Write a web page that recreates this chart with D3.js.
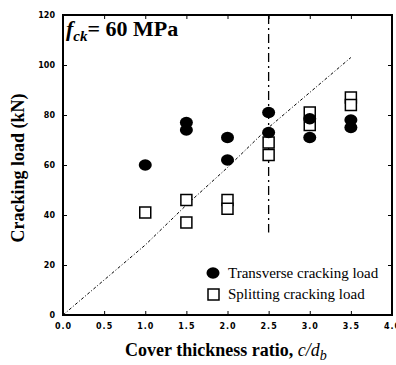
<!DOCTYPE html>
<html>
<head>
<meta charset="utf-8">
<script src="https://cdn.jsdelivr.net/npm/d3@7"></script>
<style>
  body { margin: 0; background: #fff; }
  svg { display: block; }
</style>
</head>
<body>
<div id="chart"></div>
<script>
// data
const transverseX = [1.0, 1.5, 1.5, 2.0, 2.0, 2.5, 2.5, 3.0, 3.0, 3.5, 3.5];
const transverseY = [60, 77, 74, 71, 62, 81, 73, 78.5, 71, 78, 75];
const splittingX = [1.0, 1.5, 1.5, 2.0, 2.0, 2.5, 2.5, 3.0, 3.0, 3.5, 3.5];
const splittingY = [41, 46, 37, 46, 42.5, 69, 64, 81, 76, 87, 84];
const trendX = [0, 0.5, 1.0, 1.5, 2.0, 2.5, 3.0, 3.5];
const trendY = [0, 14, 28, 44, 59, 75, 89, 103];
const limitX = 2.5;
const limitY = [33, 120];
const xTicks = [0, 0.5, 1, 1.5, 2, 2.5, 3, 3.5, 4];
const yTicks = [0, 20, 40, 60, 80, 100, 120];

const width = 396, height = 365;
const margin = {top: 15, right: 4, bottom: 50, left: 63};

const svg = d3.select("#chart").append("svg")
  .attr("width", width)
  .attr("height", height);

const x = d3.scaleLinear().domain([0, 4]).range([margin.left, width - margin.right]);
const y = d3.scaleLinear().domain([0, 120]).range([height - margin.bottom, margin.top]);

const tickFont = "bold 8px 'DejaVu Sans', sans-serif";

// axes with inward ticks
svg.append("g")
  .attr("transform", `translate(0,${y(0)})`)
  .call(d3.axisBottom(x).tickValues(xTicks).tickSize(-4).tickPadding(8).tickFormat(d3.format(".1f")))
  .call(g => g.select(".domain").remove())
  .call(g => g.selectAll("text").style("font", tickFont).attr("letter-spacing", 1));

svg.append("g")
  .attr("transform", `translate(${x(0)},0)`)
  .call(d3.axisLeft(y).tickValues(yTicks).tickSize(-4).tickPadding(8).tickFormat(d3.format("d")))
  .call(g => g.select(".domain").remove())
  .call(g => g.selectAll("text").style("font", tickFont));

svg.append("g")
  .attr("transform", `translate(0,${y(120)})`)
  .call(d3.axisTop(x).tickValues(xTicks).tickSize(-4).tickFormat(""))
  .call(g => g.select(".domain").remove());

svg.append("g")
  .attr("transform", `translate(${x(4)},0)`)
  .call(d3.axisRight(y).tickValues(yTicks).tickSize(-4).tickFormat(""))
  .call(g => g.select(".domain").remove());

// frame
svg.append("rect")
  .attr("x", x(0)).attr("y", y(120))
  .attr("width", x(4) - x(0)).attr("height", y(0) - y(120))
  .attr("fill", "none").attr("stroke", "#000").attr("stroke-width", 2);

// trend line (dotted)
svg.append("path")
  .datum(trendX.map((d, i) => [d, trendY[i]]))
  .attr("fill", "none")
  .attr("stroke", "#000")
  .attr("stroke-width", 1)
  .attr("stroke-dasharray", "3,2,1,2")
  .attr("d", d3.line().x(d => x(d[0])).y(d => y(d[1])));

// vertical dash-dot limit
svg.append("line")
  .attr("x1", x(limitX)).attr("x2", x(limitX))
  .attr("y1", y(limitY[1])).attr("y2", y(limitY[0]))
  .attr("stroke", "#000").attr("stroke-width", 1.3)
  .attr("stroke-dasharray", "9,4,2,4");

// splitting: open squares
const sq = 11;
svg.append("g").selectAll("rect")
  .data(splittingX.map((d, i) => [d, splittingY[i]]))
  .join("rect")
  .attr("x", d => x(d[0]) - sq / 2)
  .attr("y", d => y(d[1]) - sq / 2)
  .attr("width", sq).attr("height", sq)
  .attr("fill", "#fff").attr("stroke", "#000").attr("stroke-width", 1.5);

// transverse: filled circles
svg.append("g").selectAll("ellipse")
  .data(transverseX.map((d, i) => [d, transverseY[i]]))
  .join("ellipse")
  .attr("cx", d => x(d[0]))
  .attr("cy", d => y(d[1]))
  .attr("rx", 6.5).attr("ry", 5.8)
  .attr("fill", "#000");

// annotation
const ann = svg.append("text")
  .attr("x", x(0) + 3).attr("y", y(120) + 21)
  .style("font", "bold 22px 'Liberation Serif', serif");
ann.append("tspan").attr("font-style", "italic").text("f");
ann.append("tspan").attr("font-style", "italic").attr("font-size", 15).attr("dy", 5).text("ck");
ann.append("tspan").attr("dy", -5).text("= 60 MPa");

// legend
const legend = svg.append("g").style("font", "15px 'Liberation Serif', serif");
legend.append("ellipse").attr("cx", 213).attr("cy", 273).attr("rx", 6.5).attr("ry", 5.8).attr("fill", "#000");
legend.append("text").attr("x", 228).attr("y", 278).text("Transverse cracking load");
legend.append("rect").attr("x", 208).attr("y", 289).attr("width", sq).attr("height", sq)
  .attr("fill", "#fff").attr("stroke", "#000").attr("stroke-width", 1.5);
legend.append("text").attr("x", 228).attr("y", 299).text("Splitting cracking load");

// axis titles
const xt = svg.append("text")
  .attr("x", 125).attr("y", 356)
  .style("font", "bold 18px 'Liberation Serif', serif");
xt.append("tspan").text("Cover thickness ratio, ");
xt.append("tspan").attr("font-style", "italic").attr("font-weight", "normal").text("c/d");
xt.append("tspan").attr("font-style", "italic").attr("font-weight", "normal").attr("font-size", 14).attr("dy", 4).text("b");

svg.append("text")
  .attr("transform", `translate(24,${(y(0) + y(120)) / 2 + 3}) rotate(-90)`)
  .attr("text-anchor", "middle")
  .style("font", "bold 18px 'Liberation Serif', serif")
  .text("Cracking load (kN)");
</script>
</body>
</html>
